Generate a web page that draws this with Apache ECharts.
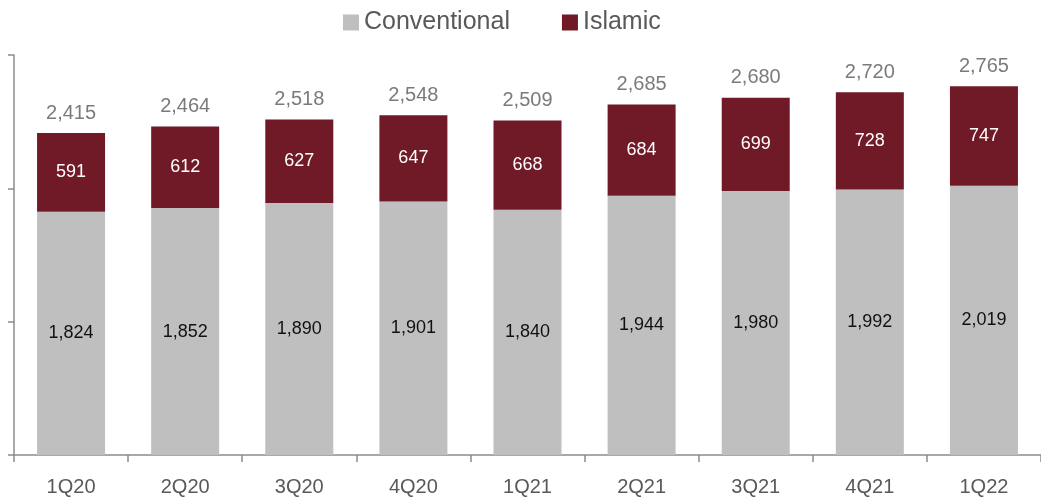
<!DOCTYPE html>
<html>
<head>
<meta charset="utf-8">
<script src="https://cdn.jsdelivr.net/npm/echarts@6/dist/echarts.min.js"></script>
<style>html,body{margin:0;padding:0;background:#fff}#c{width:1041px;height:498px}</style>
</head>
<body>
<div id="c"></div>
<script>
const categories = ['1Q20','2Q20','3Q20','4Q20','1Q21','2Q21','3Q21','4Q21','1Q22'];
const conventional = [1824,1852,1890,1901,1840,1944,1980,1992,2019];
const islamic = [591,612,627,647,668,684,699,728,747];
const totals = [2415,2464,2518,2548,2509,2685,2680,2720,2765];
const yTicks = [0,1000,2000,3000];

const fmt = v => v.toLocaleString('en-US');
const font = 'Liberation Sans';
const stackTop = conventional.map((v,i) => v + islamic[i]);

const chart = echarts.init(document.getElementById('c'));
chart.setOption({
  animation: false,
  textStyle: {fontFamily: font},
  legend: {
    data: ['Conventional','Islamic'],
    top: 5, left: 338,
    itemWidth: 16, itemHeight: 16, itemGap: 52,
    icon: 'rect',
    textStyle: {fontSize: 25, color: '#595959', fontFamily: font}
  },
  grid: {left: 14, right: -7, top: 55, bottom: 43},
  xAxis: {
    type: 'category', data: categories,
    axisLine: {lineStyle: {color: '#8c8c8c', width: 1.5}},
    axisTick: {show: true, length: 7, lineStyle: {color: '#8c8c8c', width: 1.5}},
    axisLabel: {fontSize: 20, color: '#595959', margin: 22, fontFamily: font}
  },
  yAxis: {
    type: 'value', min: yTicks[0], max: yTicks[yTicks.length-1], interval: 1000,
    axisLine: {show: true, lineStyle: {color: '#8c8c8c', width: 1.5}},
    axisTick: {show: true, inside: false, length: 6, lineStyle: {color: '#8c8c8c', width: 1.5}},
    axisLabel: {show: false},
    splitLine: {show: false}
  },
  series: [
    {
      name: 'Conventional', type: 'bar', stack: 's', barWidth: 68,
      data: conventional,
      itemStyle: {color: '#bfbfbf'},
      label: {show: true, position: 'inside', fontSize: 18, color: '#111', fontFamily: font,
        formatter: p => fmt(p.value)}
    },
    {
      name: 'Islamic', type: 'bar', stack: 's', barWidth: 68,
      data: islamic,
      itemStyle: {color: '#701927'},
      label: {show: true, position: 'inside', fontSize: 18, color: '#fff', fontFamily: font,
        formatter: p => fmt(p.value)}
    },
    {
      name: 'Total', type: 'scatter', data: stackTop,
      symbolSize: 0, silent: true,
      label: {show: true, position: 'top', distance: 10, fontSize: 20, color: '#595959', fontFamily: font,
        formatter: p => fmt(totals[p.dataIndex])}
    }
  ]
});
</script>
</body>
</html>
